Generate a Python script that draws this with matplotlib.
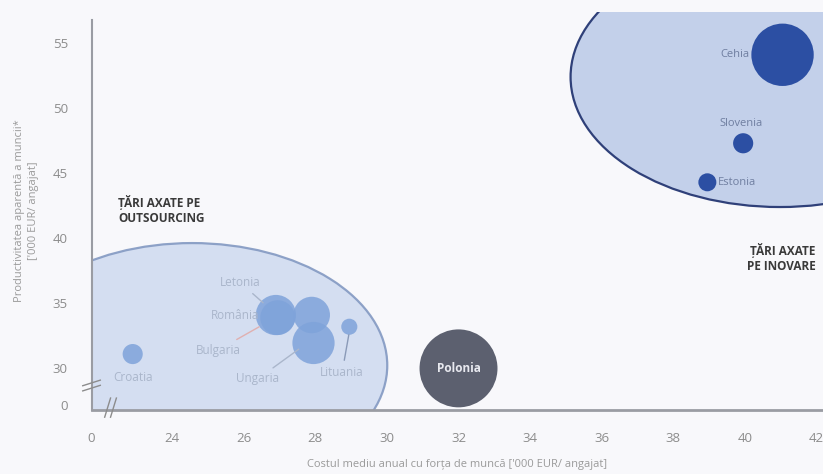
import matplotlib.pyplot as plt
from matplotlib.patches import Ellipse
import numpy as np

plt.rcParams['font.family'] = ['Open Sans', 'DejaVu Sans']

# date
tari = ['Croatia', 'Letonia', 'Bulgaria', 'România', 'Ungaria', 'Lituania',
        'Polonia', 'Cehia', 'Slovenia', 'Estonia']
cost = [22.9, 26.9, 26.95, 27.9, 27.95, 28.95, 32.0, 41.05, 39.95, 38.95]
productivitate = [31.1, 34.1, 33.9, 34.1, 31.95, 33.2, 30.0, 54.1, 47.3, 44.3]
marime = [100, 400, 300, 330, 440, 64, 1500, 960, 100, 80]
grup = ['out', 'out', 'out', 'out', 'out', 'out', 'pl', 'ino', 'ino', 'ino']

x_ticks = [24, 26, 28, 30, 32, 34, 36, 38, 40, 42]
y_ticks = [30, 35, 40, 45, 50, 55]

culori = {'out': '#7fa3da', 'pl': '#5c606f', 'ino': '#2c4fa3'}

fig = plt.figure(figsize=(8.23, 4.74), dpi=100, facecolor='#f8f8fb')
ax = fig.add_axes([0.1112, 0.135, 0.8888, 0.84])
ax.set_facecolor('#f8f8fb')
xmin, xmax = 21.75, 42.18
ymin, ymax = 26.8, 57.4
ax.set_xlim(xmin, xmax)
ax.set_ylim(ymin, ymax)

# zonele eliptice
ax.add_patch(Ellipse((24.56, 30.23), 10.9, 18.8, facecolor='#d0dcf0',
                     edgecolor='#8399c2', lw=1.6, alpha=0.9, zorder=1))
ax.add_patch(Ellipse((40.98, 52.4), 11.7, 20.0, facecolor='#c3d0ea',
                     edgecolor='#2f4079', lw=1.6, zorder=1))

# bule
for i, t in enumerate(tari):
    ax.scatter(cost[i], productivitate[i], s=marime[i] * 2.1,
               color=culori[grup[i]], alpha=0.85 if grup[i] == 'out' else 1,
               edgecolors='none', zorder=3)

lbl = dict(color='#aab6cb', fontsize=8.5, zorder=4)
ax.annotate('Letonia', xy=(26.6, 34.9), xytext=(25.9, 36.6), ha='center', va='center',
            arrowprops=dict(arrowstyle='-', color='#aab6cb', lw=1), **lbl)
ax.text(25.76, 34.1, 'România', ha='center', va='center', **lbl)
ax.annotate('Bulgaria', xy=(26.5, 33.3), xytext=(25.28, 31.4), ha='center', va='center',
            arrowprops=dict(arrowstyle='-', color='#e0b0b0', lw=1), **lbl)
ax.annotate('Ungaria', xy=(27.6, 31.6), xytext=(26.4, 29.2), ha='center', va='center',
            arrowprops=dict(arrowstyle='-', color='#aab6cb', lw=1), **lbl)
ax.annotate('Lituania', xy=(28.95, 32.8), xytext=(28.75, 29.7), ha='center', va='center',
            arrowprops=dict(arrowstyle='-', color='#8a9ab8', lw=1), **lbl)
ax.text(22.9, 29.3, 'Croatia', ha='center', va='center', **lbl)
ax.text(32.0, 30.0, 'Polonia', ha='center', va='center', color='#e8e9ef',
        fontsize=8.5, fontweight='bold', zorder=4)

lbl2 = dict(color='#6f7ea0', fontsize=8, zorder=4)
ax.text(40.12, 54.1, 'Cehia', ha='right', va='center', **lbl2)
ax.text(39.9, 48.8, 'Slovenia', ha='center', va='center', **lbl2)
ax.text(39.25, 44.3, 'Estonia', ha='left', va='center', **lbl2)

ax.text(22.5, 42.2, 'ȚĂRI AXATE PE\nOUTSOURCING', ha='left', va='center',
        fontsize=8.5, fontweight='bold', color='#3a3a3a', linespacing=1.2)
ax.text(41.97, 38.5, 'ȚĂRI AXATE\nPE INOVARE', ha='right', va='center',
        fontsize=8.5, fontweight='bold', color='#3a3a3a', linespacing=1.2)

# axe
for s in ['top', 'right']:
    ax.spines[s].set_visible(False)
ax.spines['left'].set_color('#9a9ca3')
ax.spines['bottom'].set_color('#9a9ca3')
ax.spines['left'].set_linewidth(1.5)
ax.spines['bottom'].set_linewidth(2)
ax.spines['left'].set_bounds(ymin, 56.8)

ax.set_xticks([xmin] + x_ticks)
ax.set_xticklabels(['0'] + [str(v) for v in x_ticks])
ax.set_yticks([27.15] + y_ticks)
ax.set_yticklabels(['0'] + [str(v) for v in y_ticks])
ax.tick_params(length=0, colors='#8c8c8c', labelsize=9.5)
ax.tick_params(axis='x', pad=16)
ax.tick_params(axis='y', pad=17)

ax.set_xlabel("Costul mediu anual cu forța de muncă ['000 EUR/ angajat]",
              color='#9a9a9a', fontsize=8, labelpad=10)
ax.set_ylabel("Productivitatea aparentă a muncii*\n['000 EUR/ angajat]",
              color='#9a9a9a', fontsize=8, labelpad=10, linespacing=1.3)

# semne de intrerupere a axelor
kw = dict(color='#8c8c8c', lw=1, clip_on=False, transform=ax.transAxes, zorder=5)
for dy in (0.0, 0.013):
    ax.plot([-0.012, 0.012], [0.048 + dy, 0.062 + dy], **kw)
for dx in (0.0, 0.008):
    ax.plot([0.018 + dx, 0.026 + dx], [-0.018, 0.03], **kw)

fig.savefig('out.png', dpi=100, facecolor=fig.get_facecolor())
